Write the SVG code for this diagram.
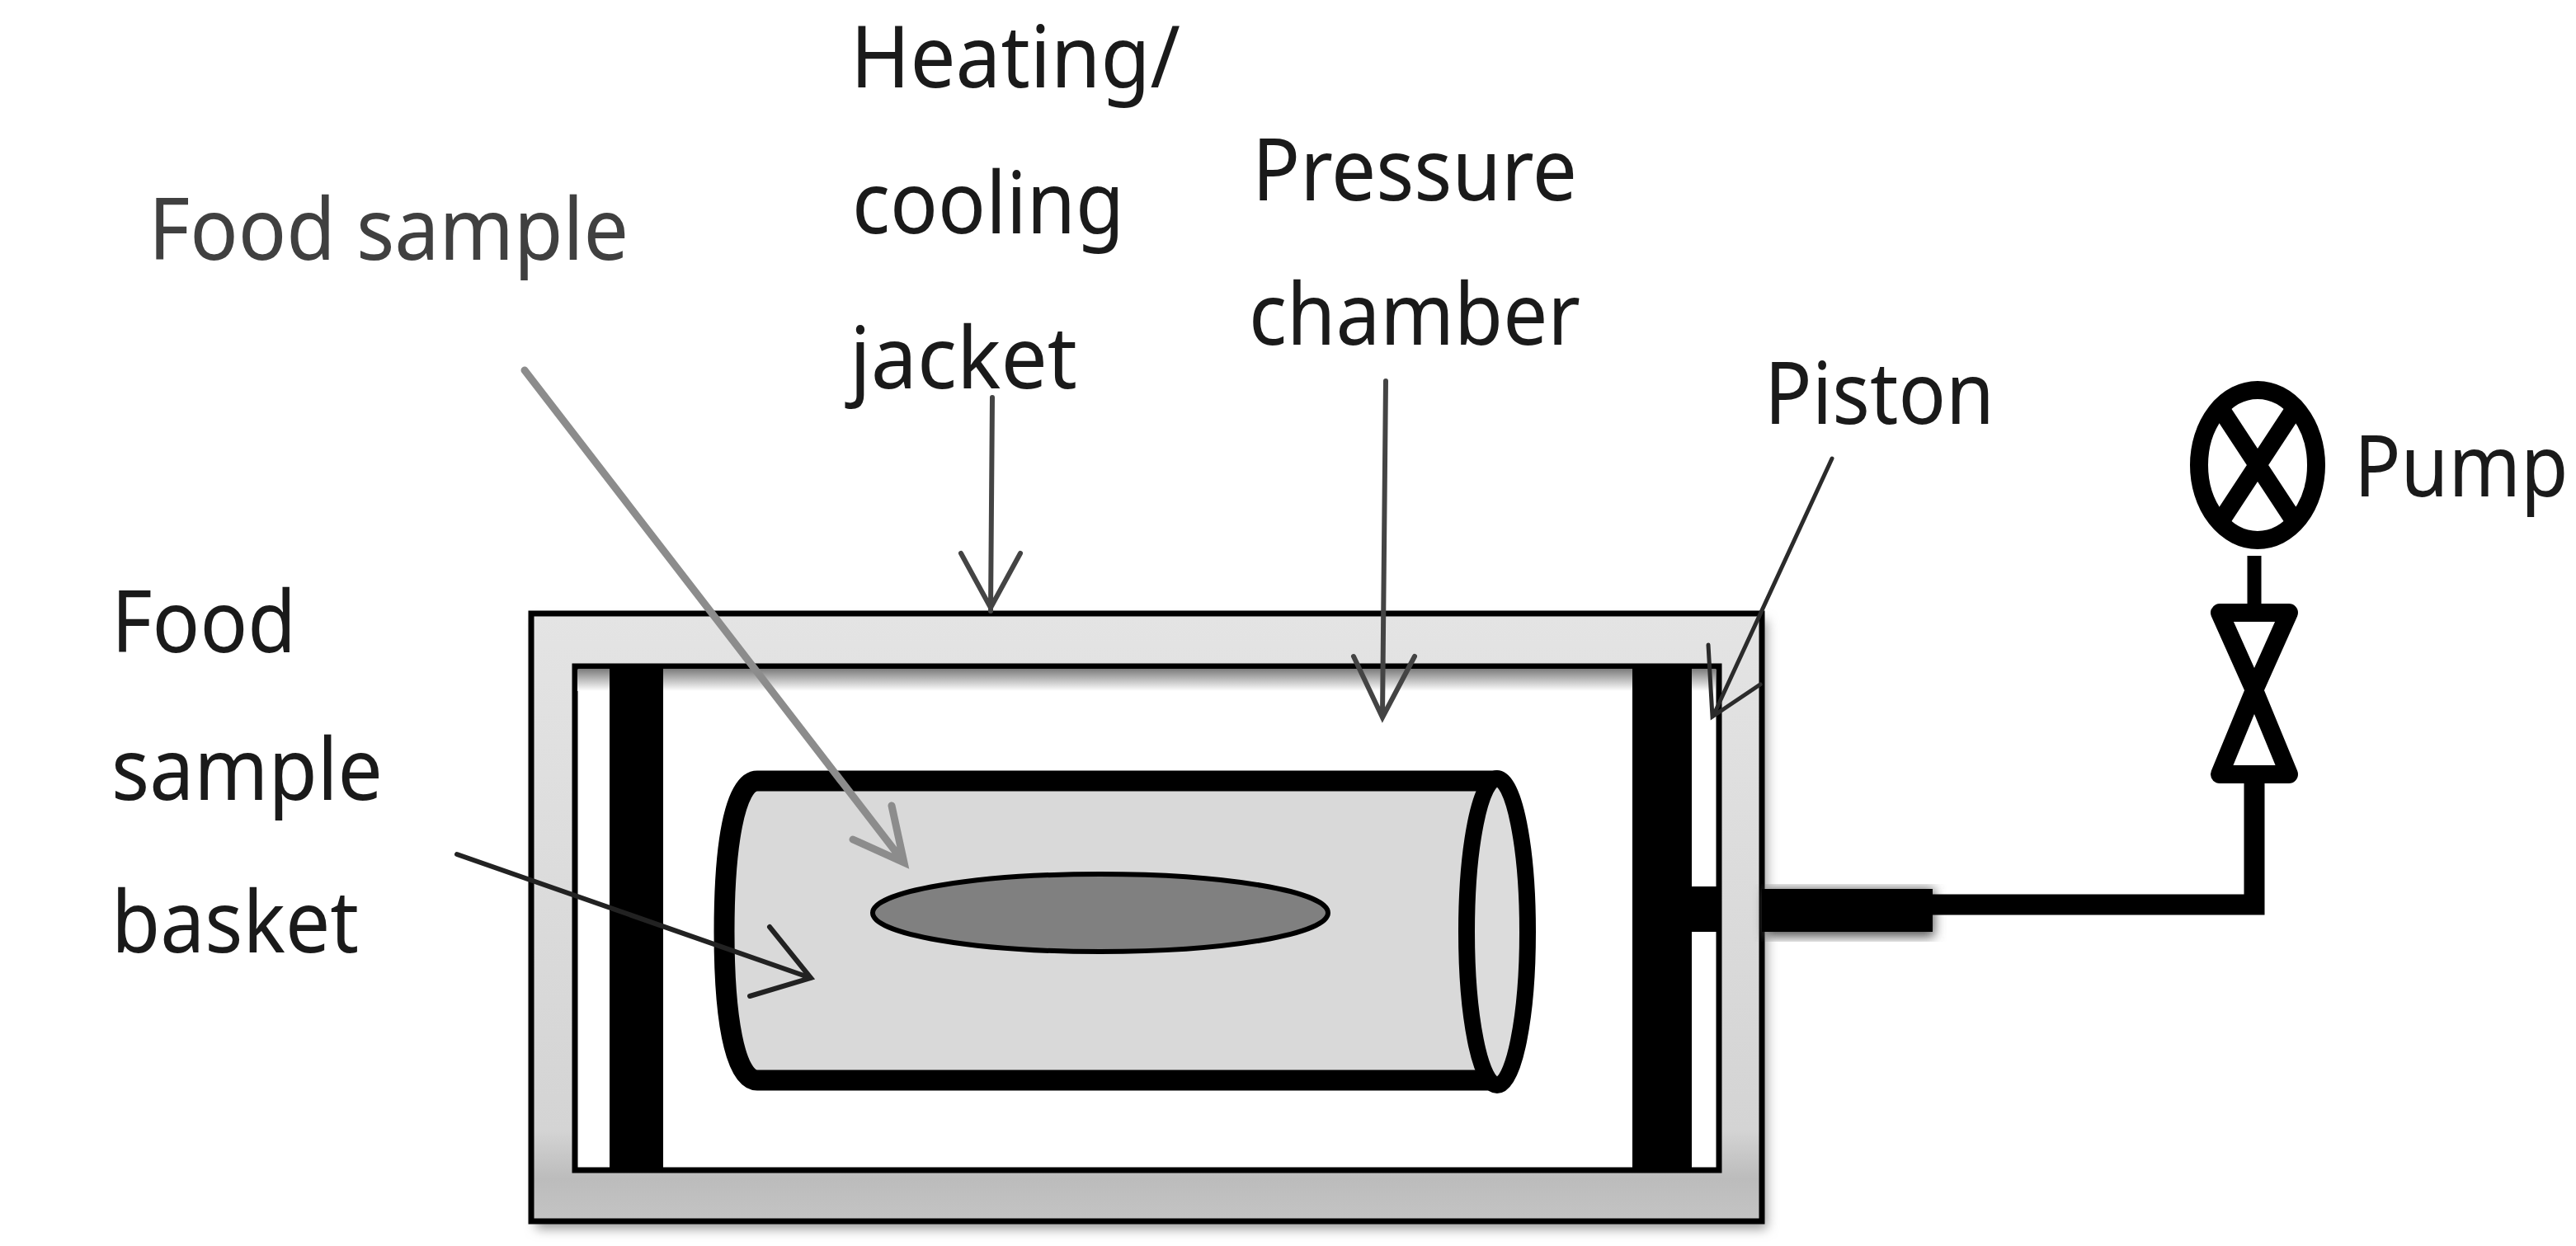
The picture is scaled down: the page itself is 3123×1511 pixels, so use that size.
<svg xmlns="http://www.w3.org/2000/svg" width="3123" height="1511" viewBox="0 0 3123 1511">
<style>
.l{font-family:"Noto Sans","Liberation Sans",sans-serif;font-size:104px;fill:#1a1a1a}
.k{stroke:#000}
.a{fill:none;stroke-linecap:round;stroke-linejoin:miter}
</style>
<defs>
<linearGradient id="jacket" x1="0" y1="0" x2="0" y2="1"><stop offset="0" stop-color="#e4e4e4"/><stop offset="0.85" stop-color="#d4d4d4"/><stop offset="0.93" stop-color="#bcbcbc"/><stop offset="1" stop-color="#c4c4c4"/></linearGradient>
<linearGradient id="top" x1="0" y1="0" x2="0" y2="1"><stop offset="0" stop-color="#808080"/><stop offset="1" stop-color="#fff"/></linearGradient>
<filter id="soft" x="-10%" y="-10%" width="120%" height="120%"><feGaussianBlur stdDeviation="7"/></filter>
</defs>
<rect width="3123" height="1511" fill="#fff"/>
<g id="jacket-vessel">
<rect x="650" y="752" width="1492" height="738" fill="#999" filter="url(#soft)"/>
<rect x="644" y="744" width="1492" height="737" fill="url(#jacket)" class="k" stroke-width="7"/>
<rect x="697" y="808" width="1387" height="611" fill="#fff" class="k" stroke-width="7"/>
<rect x="700" y="812" width="1380" height="26" fill="url(#top)"/>
</g>
<g id="piston-left"><rect x="739" y="806" width="65" height="614" fill="#000"/></g>
<g id="piston-right">
<rect x="1979" y="806" width="72" height="614" fill="#000"/>
<rect x="2050" y="1075" width="33" height="55" fill="#000"/>
<rect x="2140" y="1078" width="205" height="58" fill="#555" filter="url(#soft)"/>
<rect x="2136" y="1078" width="207" height="52" fill="#000"/>
</g>
<g id="basket">
<path d="M1815 947H918C890 947 878 1030 878 1130C878 1230 890 1310 918 1310H1815Z" fill="#d9d9d9"/>
<path d="M1815 947H918C890 947 878 1030 878 1130C878 1230 890 1310 918 1310H1815" fill="none" class="k" stroke-width="25"/>
<ellipse cx="1815" cy="1130" rx="37" ry="186" fill="#dcdcdc" class="k" stroke-width="20"/>
</g>
<g id="food-sample"><ellipse cx="1334" cy="1107" rx="276" ry="47" fill="#808080" stroke="#000" stroke-width="6"/></g>
<g id="pipe">
<path d="M2343 1097H2733V950" fill="none" class="k" stroke-width="25" stroke-linejoin="miter"/>
</g>
<g id="valve">
<path d="M2733 837L2691 743H2775Z" fill="#fff" stroke="#000" stroke-width="22" stroke-linejoin="round"/>
<path d="M2733 837L2691 939H2775Z" fill="#fff" stroke="#000" stroke-width="22" stroke-linejoin="round"/>
<path d="M2733 674V733" fill="none" class="k" stroke-width="17"/>
</g>
<g id="pump">
<ellipse cx="2737" cy="564" rx="71" ry="91" fill="#fff" class="k" stroke-width="22"/>
<path d="M2695 500L2779 628M2779 500L2695 628" fill="none" class="k" stroke-width="22"/>
</g>
<g id="connectors">
<path class="a" stroke="#8c8c8c" stroke-width="9" d="M636 449L1096 1046M1081 977L1096 1046L1034 1018"/>
<path class="a" stroke="#444" stroke-width="6" d="M1203 482L1201 741M1165 671L1201 737L1237 671"/>
<path class="a" stroke="#444" stroke-width="6" d="M1680 462L1676 868M1641 796L1676 870L1715 796"/>
<path class="a" stroke="#2b2b2b" stroke-width="5" d="M2221 556L2078 866M2071 782L2076 869L2134 830"/>
<path class="a" stroke="#222" stroke-width="6" d="M554 1036L983 1186M933 1124L983 1186L909 1208"/>
</g>
<g id="labels">
<text class="l" x="180" y="315" textLength="582" lengthAdjust="spacingAndGlyphs" style="fill:#404040">Food sample</text>
<text class="l" x="1031" y="106" textLength="400" lengthAdjust="spacingAndGlyphs">Heating/</text>
<text class="l" x="1033" y="283" textLength="330" lengthAdjust="spacingAndGlyphs">cooling</text>
<text class="l" x="1030" y="471" textLength="276" lengthAdjust="spacingAndGlyphs">jacket</text>
<text class="l" x="1518" y="243" textLength="394" lengthAdjust="spacingAndGlyphs">Pressure</text>
<text class="l" x="1514" y="418" textLength="402" lengthAdjust="spacingAndGlyphs">chamber</text>
<text class="l" x="2139" y="514" textLength="279" lengthAdjust="spacingAndGlyphs">Piston</text>
<text class="l" transform="translate(2854 602) scale(0.9 1)">Pump</text>
<text class="l" x="135" y="791" textLength="224" lengthAdjust="spacingAndGlyphs">Food</text>
<text class="l" x="135" y="970" textLength="329" lengthAdjust="spacingAndGlyphs">sample</text>
<text class="l" x="135" y="1155" textLength="300" lengthAdjust="spacingAndGlyphs">basket</text>
</g>
</svg>
